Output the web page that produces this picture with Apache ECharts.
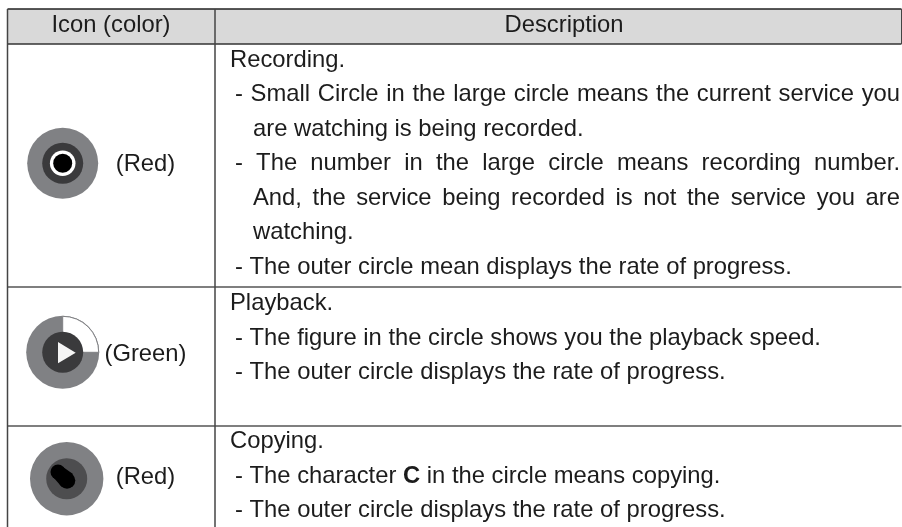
<!DOCTYPE html>
<html><head><meta charset="utf-8">
<style>html,body{margin:0;padding:0;background:#fff}#c{width:902px;height:527px}</style>
<script src="https://cdn.jsdelivr.net/npm/echarts@6/dist/echarts.min.js"></script>
</head><body><div id="c"></div>
<script>
const headers = ["Icon (color)", "Description"];
const iconLabels = ["(Red)", "(Green)", "(Red)"];
const recordingLines = [
  "Recording.",
  "- Small Circle in the large circle means the current service you",
  "are watching is being recorded.",
  "- The number in the large circle means recording number.",
  "And, the service being recorded is not the service you are",
  "watching.",
  "- The outer circle mean displays the rate of progress."
];
const playbackLines = [
  "Playback.",
  "- The figure in the circle shows you the playback speed.",
  "- The outer circle displays the rate of progress."
];
const copyingLines = [
  "Copying.",
  "- The character C in the circle means copying.",
  "- The outer circle displays the rate of progress."
];
const justifiedLines = [
  "- Small Circle in the large circle means the current service you",
  "- The number in the large circle means recording number.",
  "And, the service being recorded is not the service you are"
];
const boldWords = ["C"];

const FONT = 'Liberation Sans';
const SIZE = 23.8;
const TEXT = '#1c1c1c';
const L = 7.5, M = 215, R = 901.5, T = 9, H = 44, R1 = 287, R2 = 426, B = 527;
const ctx = document.createElement('canvas').getContext('2d');
const measure = (s, bold) => { ctx.font = (bold ? 'bold ' : '') + SIZE + 'px ' + FONT; return ctx.measureText(s).width; };
const els = [];
const line = (x1, y1, x2, y2, c, w) => els.push({type:'line', shape:{x1,y1,x2,y2}, style:{stroke:c, lineWidth:w}, silent:true});
const txt = (s, x, y, align, bold) => els.push({type:'text', x, y, silent:true, style:{text:s, x:0, y:0, fill:TEXT, font:(bold?'bold ':'')+SIZE+'px "'+FONT+'"', align:align||'left', verticalAlign:'middle'}});

els.push({type:'rect', shape:{x:L, y:T, width:R-L, height:H-T}, style:{fill:'#d9d9d9'}, silent:true});
line(L, T, R, T, '#222', 1.5);
line(L, H, R, H, '#333', 1.5);
line(L, R1, R, R1, '#555', 1.5);
line(L, R2, R, R2, '#555', 1.5);
line(L, T, L, B, '#444', 1.5);
line(M, T, M, B, '#444', 1.5);
line(R, T, R, H, '#444', 1);
txt(headers[0], 111, 25, 'center');
txt(headers[1], 564, 25, 'center');

const START = 230, DASH = 235, BODY = 253, RIGHT = 900, STEP = 34.45;
function drawLine(s, baseline) {
  const y = baseline - SIZE * 0.3 + 0.7;
  const isTitle = s.endsWith('.') && s.indexOf(' ') < 0 && s !== 'watching.';
  const x0 = isTitle ? START : (s.startsWith('-') ? DASH : BODY);
  const words = s.split(' ');
  const widths = words.map(w => measure(w, boldWords.includes(w)));
  let gap = measure(' ');
  if (justifiedLines.includes(s)) gap = (RIGHT - x0 - widths.reduce((a, b) => a + b, 0)) / (words.length - 1);
  let x = x0;
  words.forEach((w, i) => { txt(w, x, y, 'left', boldWords.includes(w)); x += widths[i] + gap; });
}
[[recordingLines, 66.7], [playbackLines, 310], [copyingLines, 448]].forEach(([rows, base]) =>
  rows.forEach((s, i) => drawLine(s, base + i * STEP)));

const circle = (cx, cy, r, fill) => els.push({type:'circle', shape:{cx, cy, r}, style:{fill}, silent:true});
// recording icon
circle(62.7, 163.3, 35.5, '#808184');
circle(62.7, 163.3, 20.5, '#3a3a3c');
circle(62.7, 163.3, 12.8, '#ffffff');
circle(62.7, 163.3, 9.5, '#000000');
txt(iconLabels[0], 145.5, 164, 'center');
// playback icon
circle(62.7, 352.3, 36.5, '#808184');
els.push({type:'sector', shape:{cx:62.7, cy:352.3, r:36, r0:0, startAngle:-Math.PI/2, endAngle:0, clockwise:true}, style:{fill:'#fff', stroke:'#808184', lineWidth:1}, silent:true});
circle(62.7, 352.3, 20.5, '#3a3a3c');
els.push({type:'polygon', shape:{points:[[58,342],[75.7,352.7],[58,363.3]]}, style:{fill:'#f5f5f5'}, silent:true});
txt(iconLabels[1], 145.5, 354, 'center');
// copying icon
circle(66.7, 478.7, 36.7, '#808184');
circle(66.7, 478.7, 20.5, '#4d4d4f');
circle(58, 472, 7.5, '#000');
circle(67, 480.5, 8.3, '#000');
els.push({type:'polygon', shape:{points:[[53,477],[63,467],[73,474],[61,486]]}, style:{fill:'#000'}, silent:true});
txt(iconLabels[2], 145.5, 477, 'center');

const chart = echarts.init(document.getElementById('c'), null, {renderer:'canvas'});
chart.setOption({animation:false, backgroundColor:'#fff', graphic:{elements:els}});
</script></body></html>
